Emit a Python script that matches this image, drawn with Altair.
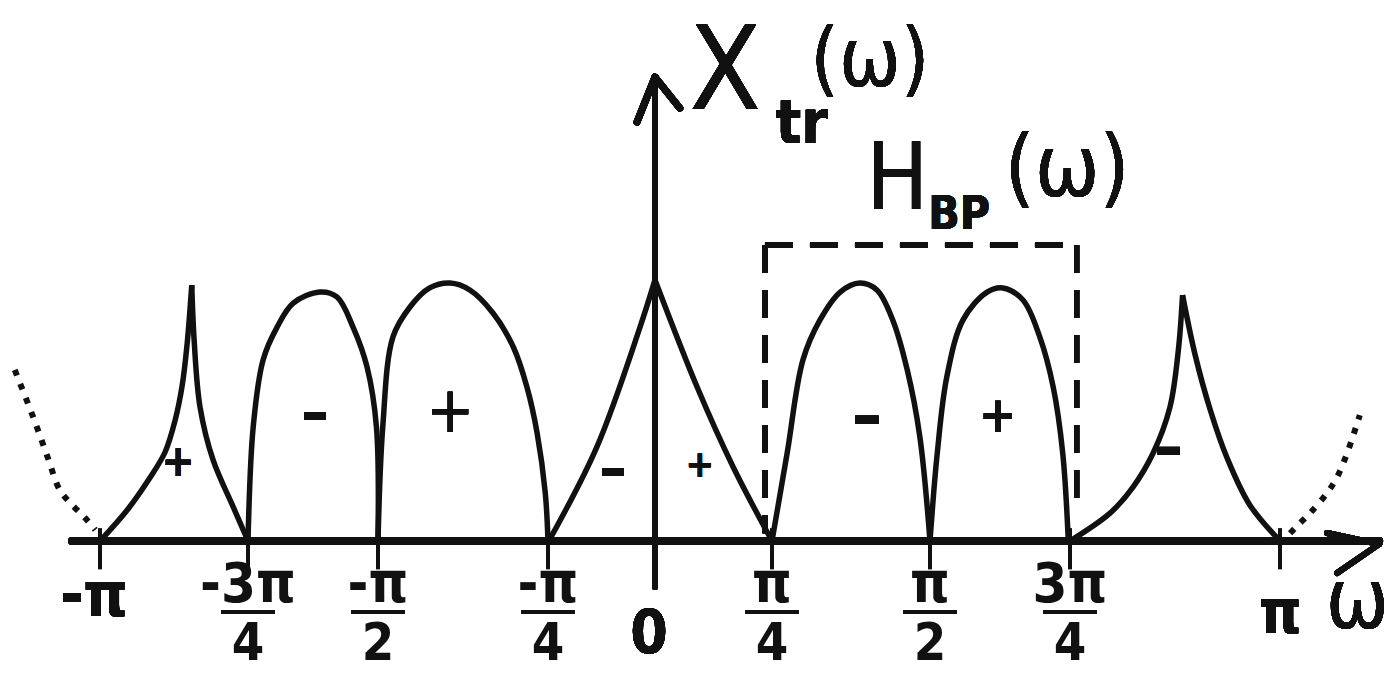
import altair as alt
import pandas as pd

# ---------------------------------------------------------------
# Spectrum X_tr(w) sketch. Frequency w is given in units of pi,
# amplitude is normalised so the main lobes reach about 1.
# ---------------------------------------------------------------

TICK_W = [-1.0, -0.75, -0.5, -0.25, 0.0, 0.25, 0.5, 0.75, 1.0]
FRAC_W = [-0.75, -0.5, -0.25, 0.25, 0.5, 0.75]
FRAC_NUM = ["-3π", "-π", "-π", "π", "π", "3π"]
FRAC_DEN = ["4", "2", "4", "4", "2", "4"]

# periodic continuation outside [-pi, pi] (dotted)
TAIL_L_W = [-1.144, -1.113, -1.088, -1.068, -1.047, -1.025, -1.008]
TAIL_L_A = [0.663, 0.481, 0.322, 0.198, 0.140, 0.089, 0.043]
TAIL_R_W = [1.012, 1.024, 1.036, 1.056, 1.068, 1.080, 1.095]
TAIL_R_A = [0.030, 0.070, 0.109, 0.186, 0.248, 0.341, 0.488]

# lobe between -pi and -3pi/4 (sharp cusp)
CUSP_L_RISE_W = [-1.0, -0.954, -0.916, -0.890, -0.873, -0.861, -0.853, -0.845]
CUSP_L_RISE_A = [0.0, 0.120, 0.244, 0.345, 0.469, 0.605, 0.760, 0.992]
CUSP_L_FALL_W = [-0.845, -0.841, -0.831, -0.809, -0.775, -0.75]
CUSP_L_FALL_A = [0.992, 0.779, 0.519, 0.314, 0.132, 0.0]

# rounded lobes
ARCH_1_W = [-0.75, -0.740, -0.721, -0.694, -0.663, -0.612, -0.579, -0.548, -0.521, -0.503, -0.5]
ARCH_1_A = [0.0, 0.442, 0.702, 0.829, 0.922, 0.965, 0.946, 0.829, 0.674, 0.442, 0.0]
ARCH_2_W = [-0.5, -0.493, -0.478, -0.453, -0.424, -0.394, -0.365, -0.331, -0.301, -0.281, -0.266, -0.254, -0.25]
ARCH_2_A = [0.0, 0.442, 0.791, 0.907, 0.981, 1.0, 0.973, 0.884, 0.752, 0.597, 0.419, 0.186, 0.0]

# triangular main lobe around w = 0
TRI_RISE_W = [-0.248, -0.136, -0.035, 0.0]
TRI_RISE_A = [0.0, 0.364, 0.829, 1.012]
TRI_FALL_W = [0.0, 0.090, 0.167, 0.25]
TRI_FALL_A = [1.012, 0.597, 0.287, 0.0]

ARCH_3_W = [0.25, 0.274, 0.299, 0.326, 0.358, 0.389, 0.416, 0.441, 0.464, 0.484, 0.5]
ARCH_3_A = [0.0, 0.341, 0.702, 0.857, 0.965, 1.0, 0.973, 0.857, 0.663, 0.403, 0.0]
ARCH_4_W = [0.5, 0.513, 0.530, 0.559, 0.602, 0.630, 0.666, 0.696, 0.720, 0.737, 0.747]
ARCH_4_A = [0.0, 0.341, 0.636, 0.857, 0.965, 0.981, 0.934, 0.791, 0.597, 0.341, 0.0]

# lobe between 3pi/4 and pi (sharp cusp)
CUSP_R_RISE_W = [0.75, 0.798, 0.825, 0.849, 0.869, 0.879, 0.884]
CUSP_R_RISE_A = [0.0, 0.109, 0.209, 0.341, 0.519, 0.740, 0.953]
CUSP_R_FALL_W = [0.884, 0.899, 0.917, 0.937, 0.964, 1.0]
CUSP_R_FALL_A = [0.953, 0.721, 0.508, 0.322, 0.140, 0.0]

# ideal band-pass H_BP(w): passband edges and gain
BP_LOW, BP_HIGH, BP_GAIN = 0.235, 0.758, 1.147

segments = [
    ("tail_l", TAIL_L_W, TAIL_L_A, "dotted"),
    ("cusp_l_rise", CUSP_L_RISE_W, CUSP_L_RISE_A, "solid"),
    ("cusp_l_fall", CUSP_L_FALL_W, CUSP_L_FALL_A, "solid"),
    ("arch_1", ARCH_1_W, ARCH_1_A, "solid"),
    ("arch_2", ARCH_2_W, ARCH_2_A, "solid"),
    ("tri_rise", TRI_RISE_W, TRI_RISE_A, "solid"),
    ("tri_fall", TRI_FALL_W, TRI_FALL_A, "solid"),
    ("arch_3", ARCH_3_W, ARCH_3_A, "solid"),
    ("arch_4", ARCH_4_W, ARCH_4_A, "solid"),
    ("cusp_r_rise", CUSP_R_RISE_W, CUSP_R_RISE_A, "solid"),
    ("cusp_r_fall", CUSP_R_FALL_W, CUSP_R_FALL_A, "solid"),
    ("tail_r", TAIL_R_W, TAIL_R_A, "dotted"),
]
rows = []
for name, ws, amps, style in segments:
    for i, (w, a) in enumerate(zip(ws, amps)):
        rows.append({"seg": name, "i": i, "w": w, "a": a, "style": style})
curve_df = pd.DataFrame(rows)
tick_df = pd.DataFrame({"w": TICK_W})
frac_df = pd.DataFrame({"w": FRAC_W, "num": FRAC_NUM, "den": FRAC_DEN})

# hand-drawn axis is unevenly spaced: piecewise-linear frequency scale
XS = alt.Scale(domain=TICK_W,
               range=[100, 248, 378, 548, 655, 772, 930, 1070, 1280],
               nice=False, zero=False, clamp=False)
YS = alt.Scale(domain=[-0.531, 2.097], nice=False, zero=False)

INK = "#111111"
FONT = "'DejaVu Sans Condensed', 'Liberation Sans Narrow', 'DejaVu Sans', sans-serif"


def xd(v):
    return alt.X(datum=v, type="quantitative", scale=XS, axis=None)


def yd(v):
    return alt.Y(datum=v, type="quantitative", scale=YS, axis=None)


def seg_line(w0, a0, w1, a1, width, dash=None):
    kw = dict(color=INK, strokeWidth=width, strokeCap="round")
    if dash:
        kw = dict(color=INK, strokeWidth=width, strokeDash=dash, strokeCap="butt")
    return alt.Chart(tick_df).mark_rule(**kw).encode(
        x=xd(w0), y=yd(a0), x2=alt.X2(datum=w1), y2=alt.Y2(datum=a1)
    )


def label(text, w, a, size, weight="normal", dx=0, baseline="middle"):
    return alt.Chart(tick_df).mark_text(
        text=text, font=FONT, fontSize=size, fontWeight=weight, color=INK,
        align="center", baseline=baseline, dx=dx
    ).encode(x=xd(w), y=yd(a))


base = alt.Chart(curve_df).encode(
    x=alt.X("w:Q", scale=XS, axis=None),
    y=alt.Y("a:Q", scale=YS, axis=None),
    detail="seg:N",
    order="i:Q",
)
solid = base.transform_filter(alt.datum.style == "solid").mark_line(
    color=INK, strokeWidth=5.5, interpolate="catmull-rom", strokeJoin="round"
)
dotted = base.transform_filter(alt.datum.style == "dotted").mark_line(
    color=INK, strokeWidth=6, interpolate="catmull-rom", strokeDash=[6, 9]
)

# axes
w_axis = seg_line(-1.047, 0.0, 1.118, 0.0, 8)
w_head_a = seg_line(1.056, 0.031, 1.118, -0.012, 6)
w_head_b = seg_line(1.118, -0.012, 1.068, -0.124, 6)
a_axis = seg_line(0.0, -0.178, 0.0, 1.798, 6)
a_head_a = seg_line(-0.042, 1.624, 0.0, 1.798, 7)
a_head_b = seg_line(0.053, 1.678, 0.0, 1.798, 7)

ticks = alt.Chart(tick_df).mark_rule(color=INK, strokeWidth=4).encode(
    x=alt.X("w:Q", scale=XS, axis=None), y=yd(0.05), y2=alt.Y2(datum=-0.11)
)

# band-pass window (dashed)
bp_top = seg_line(BP_LOW, BP_GAIN, BP_HIGH, BP_GAIN, 5, dash=[28, 17])
bp_left = seg_line(BP_LOW, BP_GAIN, BP_LOW, 0.03, 5, dash=[28, 17])
bp_right = seg_line(BP_HIGH, BP_GAIN, BP_HIGH, 0.13, 5, dash=[28, 17])

# tick labels
num_text = alt.Chart(frac_df).mark_text(
    font=FONT, fontSize=56, fontWeight="bold", color=INK, baseline="middle"
).encode(x=alt.X("w:Q", scale=XS, axis=None), y=yd(-0.171), text="num:N")
den_text = alt.Chart(frac_df).mark_text(
    font=FONT, fontSize=52, fontWeight="bold", color=INK, baseline="alphabetic"
).encode(x=alt.X("w:Q", scale=XS, axis=None), y=yd(-0.461), text="den:N")
frac_bar = alt.Chart(frac_df).mark_tick(
    color=INK, orient="horizontal", size=54, thickness=4, opacity=1
).encode(x=alt.X("w:Q", scale=XS, axis=None), y=yd(-0.275))

labels = [
    label("-π", -1.0, -0.217, 62, "bold", dx=-6),
    label("0", 0.0, -0.364, 60, "bold", dx=-6),
    label("π", 1.0, -0.287, 60, "bold"),
    label("ω", 1.092, -0.240, 84, "normal"),
    # curve titles
    label("X", 0.150, 1.810, 116),
    label("tr", 0.297, 1.612, 60, "bold"),
    label("(ω)", 0.405, 1.860, 82),
    label("H", 0.448, 1.395, 92),
    label("BP", 0.552, 1.264, 46, "bold"),
    label("(ω)", 0.745, 1.438, 86),
    # lobe signs
    label("+", -0.868, 0.302, 44, "bold"),
    label("–", -0.621, 0.488, 60, "bold"),
    label("+", -0.394, 0.496, 64),
    label("–", -0.098, 0.275, 62, "bold"),
    label("+", 0.096, 0.291, 38, "bold"),
    label("–", 0.400, 0.477, 66, "bold"),
    label("+", 0.621, 0.481, 50, "bold"),
    label("–", 0.867, 0.353, 64, "bold"),
]

chart = alt.layer(
    w_axis, w_head_a, w_head_b, a_axis, a_head_a, a_head_b, ticks,
    bp_top, bp_left, bp_right,
    solid, dotted,
    num_text, frac_bar, den_text,
    *labels,
).properties(
    width=1395, height=678, padding=0,
    autosize=alt.AutoSizeParams(type="none"),
    background="white",
).configure_view(stroke=None)

chart.save("out.html", embed_options={"renderer": "svg", "actions": False})
